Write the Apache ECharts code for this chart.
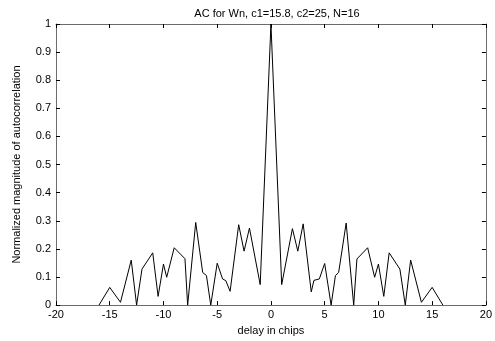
<!DOCTYPE html>
<html>
<head>
<meta charset="utf-8">
<script src="https://cdn.jsdelivr.net/npm/echarts@6/dist/echarts.min.js"></script>
<style>
html,body{margin:0;padding:0;background:#fff;}
#c{width:495px;height:341px;}
</style>
</head>
<body>
<div id="c"></div>
<script>
var titleText = 'AC for Wn, c1=15.8, c2=25, N=16';
var xLabel = 'delay in chips';
var yLabel = 'Normalized magnitude of autocorrelation';

var delayChips = [-16, -15, -14, -13, -12.5, -12, -11, -10.5, -10, -9.7, -9, -8, -7.75, -7, -6.35, -6, -5.6, -5, -4.5, -4.2, -3.8, -3, -2.5, -2, -1, 0,
  1, 2, 2.5, 3, 3.75, 4, 4.5, 5, 5.6, 6, 6.3, 7, 7.7, 8, 9, 9.65, 10, 10.5, 11, 12, 12.5, 13, 14, 15, 16];
var magnitude = [0, 0.063, 0.01, 0.16, 0, 0.128, 0.186, 0.031, 0.146, 0.099, 0.204, 0.165, 0, 0.294, 0.116, 0.105, 0, 0.149, 0.093, 0.087, 0.049, 0.286, 0.192, 0.274, 0.073, 1.0,
  0.073, 0.272, 0.192, 0.289, 0.047, 0.088, 0.093, 0.148, 0, 0.105, 0.116, 0.292, 0, 0.164, 0.204, 0.099, 0.146, 0.031, 0.186, 0.128, 0, 0.16, 0.01, 0.063, 0];

var points = delayChips.map(function (d, i) { return [d, magnitude[i]]; });

var chart = echarts.init(document.getElementById('c'), null, {renderer: 'canvas'});
var font = 'Liberation Sans, Arial, sans-serif';
var axisColor = '#6b6b6b';
function baseAxis(extra) {
  var a = {
    axisLine: {show: true, onZero: false, lineStyle: {color: axisColor, width: 1}},
    axisTick: {show: true, inside: true, length: 4, lineStyle: {color: '#000'}},
    splitLine: {show: false},
    axisLabel: {color: '#000', fontFamily: font, fontSize: 11}
  };
  for (var k in extra) a[k] = extra[k];
  return a;
}
chart.setOption({
  animation: false,
  backgroundColor: '#fff',
  title: {
    text: titleText, left: 272, top: 3, textAlign: 'center',
    textStyle: {fontFamily: font, fontSize: 11, fontWeight: 'normal', color: '#000'}
  },
  grid: {left: 56, right: 7, top: 24, bottom: 31, containLabel: false},
  xAxis: [
    baseAxis({type: 'value', min: -20, max: 20, interval: 5, position: 'bottom',
      name: xLabel, nameLocation: 'middle', nameGap: 15,
      nameTextStyle: {fontFamily: font, fontSize: 11, color: '#000'},
      axisLabel: {color: '#000', fontFamily: font, fontSize: 11, margin: 4}}),
    baseAxis({type: 'value', min: -20, max: 20, interval: 5, position: 'top',
      axisLabel: {show: false}})
  ],
  yAxis: [
    baseAxis({type: 'value', min: 0, max: 1, interval: 0.1, position: 'left',
      name: yLabel, nameLocation: 'middle', nameGap: 34, nameRotate: 90,
      nameTextStyle: {fontFamily: font, fontSize: 11, color: '#000'},
      axisLabel: {color: '#000', fontFamily: font, fontSize: 11, margin: 5}}),
    baseAxis({type: 'value', min: 0, max: 1, interval: 0.1, position: 'right',
      axisLabel: {show: false}})
  ],
  series: [{
    type: 'line', xAxisIndex: 0, yAxisIndex: 0,
    data: points, showSymbol: false, symbol: 'none',
    lineStyle: {color: '#000', width: 1},
    silent: true
  }]
});
</script>
</body>
</html>
